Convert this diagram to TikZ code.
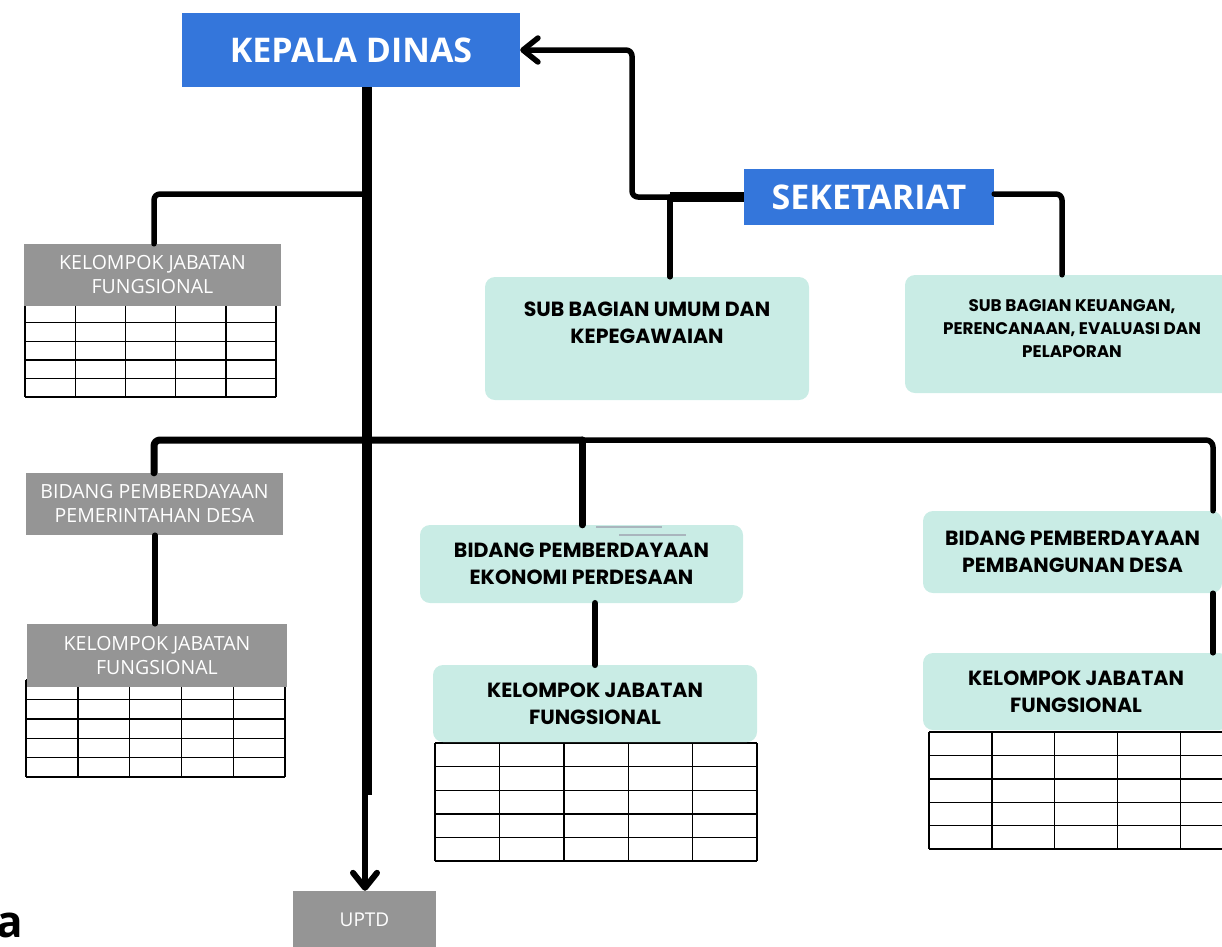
\documentclass[tikz,border=0pt]{standalone}
\usepackage{fontspec}
\setmainfont{Open Sans}
\newfontfamily\popfont{Poppins}
\usetikzlibrary{arrows.meta,calc}
\definecolor{kdblue}{HTML}{3476DB}
\definecolor{tealbg}{HTML}{C9ECE5}
\definecolor{graybg}{HTML}{959595}
\definecolor{artgray}{HTML}{A9B5BD}
\newcommand\jtable[4]{%
  \foreach \k in {0,...,5}{%
    \draw[tabline] ({#1+(#2-#1)*\k/5},#3) -- ({#1+(#2-#1)*\k/5},#4);
    \draw[tabline] (#1,{#3+(#4-#3)*\k/5}) -- (#2,{#3+(#4-#3)*\k/5});
  }}
\begin{document}
\begin{tikzpicture}[x=1pt,y=-1pt,
  conn/.style={line width=5.5pt, line cap=round, line join=round},
  tabline/.style={line width=1.4pt, black},
  bluebox/.style={fill=kdblue, text=white, inner sep=0pt, font=\fontsize{34}{40}\selectfont\bfseries},
  graybox/.style={fill=graybg, text=white, inner sep=0pt, align=center, font=\fontsize{19.5}{24}\selectfont},
  tealbox/.style={fill=tealbg, rounded corners=10pt, inner sep=0pt, align=center, font=\popfont\fontsize{20.5}{27}\selectfont\bfseries},
  tealtext/.style={inner sep=0pt, align=center, font=\popfont\fontsize{20.5}{27}\selectfont\bfseries},
  barb/.style={-{Straight Barb[length=15pt, width=24pt, round]}}
]
\useasboundingbox (0,0) rectangle (1222,946);

% tables (drawn first, boxes overlap their top)
\jtable{25}{276}{304}{397}
\jtable{26}{285}{680}{777}
\jtable{435}{757}{743}{861}
\jtable{929}{1243}{732}{849}

% nodes
\node[bluebox, minimum width=338pt, minimum height=74pt] (KD) at (351,50) {KEPALA DINAS};
\node[bluebox, minimum width=250pt, minimum height=56pt] (SEK) at (869,197) {SEKETARIAT};
\node[tealbox, minimum width=324pt, minimum height=123pt] (SUBU) at (647,338.5) {};
\node[tealtext] (SUBUt) at (647,322.5) {SUB BAGIAN UMUM DAN\\KEPEGAWAIAN};
\node[tealbox, minimum width=334pt, minimum height=118pt] (SUBK) at (1072,334) {};
\node[tealtext, font=\popfont\fontsize{16.8}{23}\selectfont\bfseries] (SUBKt) at (1072,329) {SUB BAGIAN KEUANGAN,\\PERENCANAAN, EVALUASI DAN\\PELAPORAN};
\node[graybox, minimum width=257pt, minimum height=62pt] (KJF1) at (152.5,275) {KELOMPOK JABATAN\\FUNGSIONAL};
\node[graybox, minimum width=257pt, minimum height=62pt] (BPMD) at (154.5,504) {BIDANG PEMBERDAYAAN\\PEMERINTAHAN DESA};
\node[graybox, minimum width=260pt, minimum height=63pt] (KJF2) at (157,655.5) {KELOMPOK JABATAN\\FUNGSIONAL};
\node[tealbox, minimum width=323pt, minimum height=78pt] (BEK) at (581.5,564) {BIDANG PEMBERDAYAAN\\EKONOMI PERDESAAN};
\node[tealbox, minimum width=324pt, minimum height=77pt] (KJF3) at (595,703.5) {KELOMPOK JABATAN\\FUNGSIONAL};
\node[tealbox, minimum width=299pt, minimum height=82pt] (BPPD) at (1072.5,552) {BIDANG PEMBERDAYAAN\\PEMBANGUNAN DESA};
\node[tealbox, minimum width=306pt, minimum height=77pt] (KJF4) at (1076,691.5) {KELOMPOK JABATAN\\FUNGSIONAL};
\node[graybox, font=\fontsize{19}{22}\selectfont, minimum width=143pt, minimum height=58pt] (UPTD) at (364.5,920) {UPTD};
\node[inner sep=0pt, anchor=base east, font=\fontsize{44}{50}\selectfont\bfseries] (lettera) at (23,937) {a};

% junction coordinates
\coordinate (T1) at (367,795);
\coordinate (T2) at (365,790);
\coordinate (J1) at (367,194);
\coordinate (L1) at (154,194);
\coordinate (HL) at (154,440);
\coordinate (HM) at (582,440);
\coordinate (HR) at (1213,440);
\coordinate (L2) at (155,0);
\coordinate (M2) at (595,0);
\coordinate (S1) at (670,197);
\coordinate (S2) at (632,197);
\coordinate (S3) at (632,50);
\coordinate (R1) at (1062,194);

% connectors
\draw[conn, rounded corners=6pt] (J1) -- (L1) -- (KJF1.north -| L1);
\draw[conn, line width=7pt, rounded corners=6pt] (BPMD.north -| HL) -- (HL) -- (HM);
\draw[conn, rounded corners=7pt] (HM) -- (HR) -- (BPPD.north -| HR);
\draw[conn, line width=7pt] (HM) -- (BEK.north -| HM);
\draw[conn] (BPMD.south -| L2) -- (KJF2.north -| L2);
\draw[conn, line width=6.5pt] (BEK.south -| M2) -- (KJF3.north -| M2);
\draw[conn] (BPPD.south -| HR) -- (KJF4.north -| HR);
\draw[line width=10pt] (KD.south -| T1) -- (T1);
\draw[conn, line width=6pt, barb] (T2) -- (UPTD.north -| T2);
\draw[line width=10pt] (SEK.west |- S1) -- (S1);
\draw[conn] (SUBU.north -| S1) -- (S1);
\draw[conn, rounded corners=6pt, barb] (S1) -- (S2) -- (S3) -- (KD.east |- S3);
\draw[conn, rounded corners=6pt] (SEK.east |- R1) -- (R1) -- (SUBK.north -| R1);

% small grey artefact strokes on the top edge of BEK
\draw[artgray, line width=1.5pt] (596,527) -- (662,527);
\draw[artgray, line width=1.5pt] (619,535) -- (686,535);
\end{tikzpicture}
\end{document}
